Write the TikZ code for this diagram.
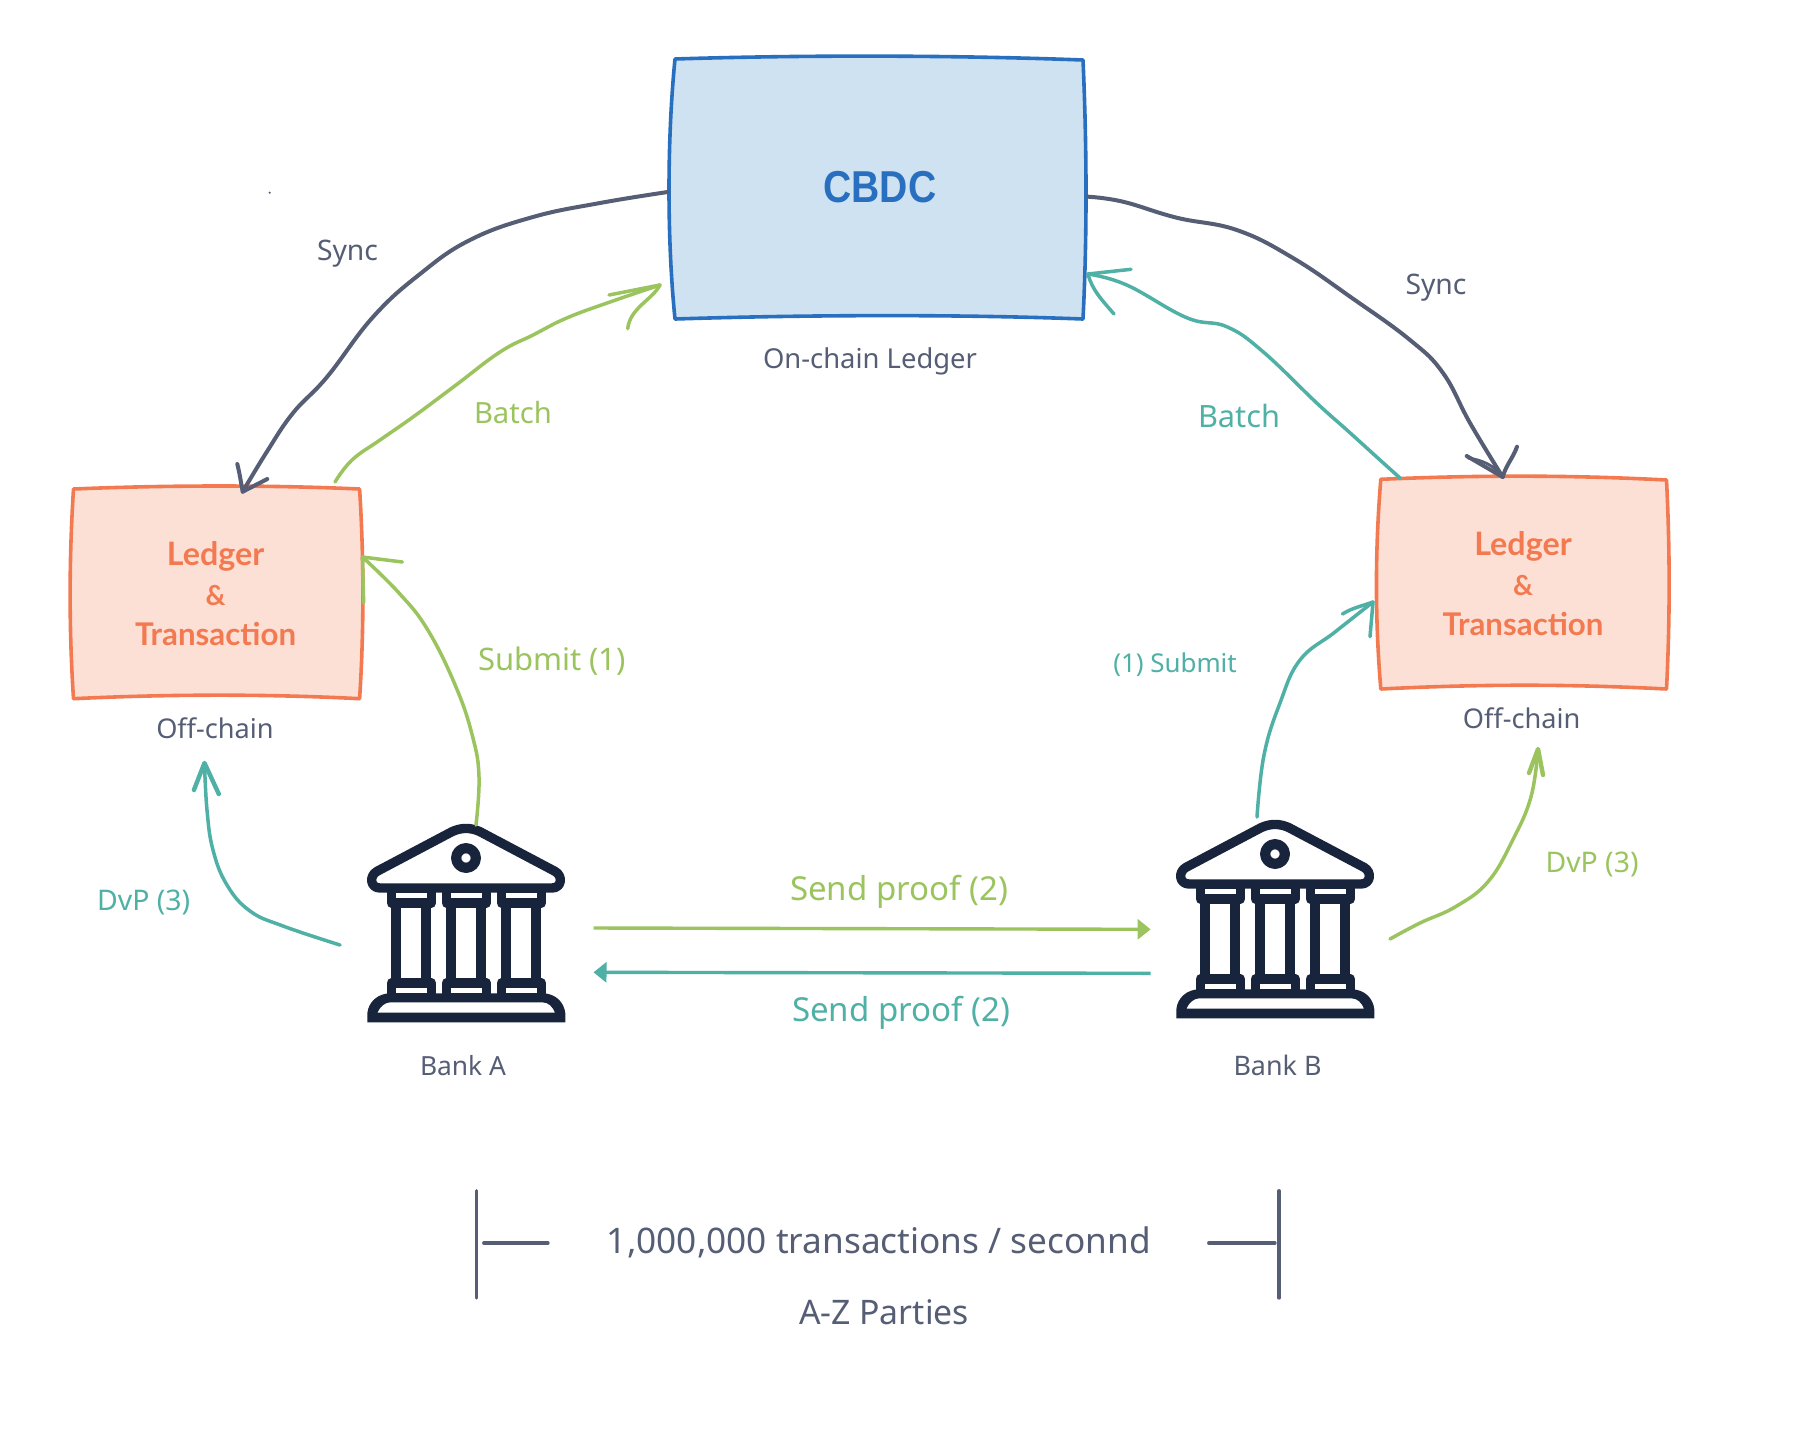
\documentclass[tikz,border=0pt]{standalone}
\usepackage{fontspec}
\usepackage{graphicx}
\usetikzlibrary{arrows.meta}
\setmainfont{Noto Sans}
\newfontfamily\cbdcfont{Liberation Sans}[BoldFont={Liberation Sans Bold}]
\newfontfamily\ledgerfont{Lato}
\definecolor{cblue}{HTML}{2870BF}
\definecolor{cbluefill}{HTML}{CFE2F2}
\definecolor{corange}{HTML}{F37A50}
\definecolor{corangefill}{HTML}{FCE0D6}
\definecolor{cgreen}{HTML}{9BC45F}
\definecolor{cteal}{HTML}{4FB0A6}
\definecolor{cgray}{HTML}{565E75}
\definecolor{cnavy}{HTML}{18233C}
\newcommand{\wt}[2]{\resizebox{\dimexpr #1pt/2\relax}{!}{\fontsize{14}{16}\selectfont #2}}
\newcommand{\wb}[2]{\resizebox{\dimexpr #1pt/2\relax}{!}{\fontsize{14}{16}\ledgerfont\bfseries #2}}
\newcommand{\bankicon}[2]{%
  \begin{scope}[shift={(#1,#2)},x=0.16667pt,y=-0.16667pt]
    \draw[banklw,line width=4.67pt] (120,294) -- (636,294) .. controls (665,294) and (670,258) .. (645,244) -- (420,125) .. controls (392,112) and (364,112) .. (336,125) -- (111,244) .. controls (86,258) and (91,294) .. (120,294) -- cycle;
    \draw[banklw,line width=5.1pt] (378,204) circle (29.5);
    \foreach \cx in {214,379,544} {
      \draw[banklw,line width=4.67pt] (\cx-60,295) rectangle (\cx+60,339);
      \draw[banklw,line width=5pt] (\cx-45,339) -- (\cx-45,579) (\cx+45,339) -- (\cx+45,579);
      \draw[banklw,line width=4.67pt] (\cx-60,579) rectangle (\cx+60,622);
    }
    \fill[cnavy,even odd rule] (82,697) -- (82,670) .. controls (85,635) and (115,610) .. (150,610) -- (608,610) .. controls (645,610) and (672,635) .. (676,670) -- (676,697) -- cycle
      (112,668) .. controls (120,650) and (135,637) .. (150,637) -- (608,637) .. controls (625,637) and (638,650) .. (645,668) -- cycle;
  \end{scope}}
\tikzset{
  banklw/.style={draw=cnavy,line join=round},
  lbl/.style={anchor=base,inner sep=0pt,outer sep=0pt},
  grayt/.style={lbl,text=cgray},
  greent/.style={lbl,text=cgreen},
  tealt/.style={lbl,text=cteal},
  boxt/.style={lbl,text=corange},
  boxblue/.style={draw=cblue,fill=cbluefill,line width=1.8pt,line join=round},
  boxorange/.style={draw=corange,fill=corangefill,line width=1.8pt,line join=round},
  inkg/.style={draw=cgreen,line width=1.75pt,line cap=round,line join=round},
  inkt/.style={draw=cteal,line width=1.75pt,line cap=round,line join=round},
  inks/.style={draw=cgray,line width=2pt,line cap=round,line join=round},
  rule/.style={draw=cgray,line width=1.6pt,line cap=round},
  straightg/.style={draw=cgreen,line width=1.7pt,-{Triangle[length=6.5pt,width=10pt]}},
  straightt/.style={draw=cteal,line width=1.7pt,-{Triangle[length=6.5pt,width=10pt]}}
}
\begin{document}
\begin{tikzpicture}[x=0.5pt,y=-0.5pt]
\useasboundingbox[fill=white] (0,0) rectangle (1798,1430);

% boxes
\draw[boxblue] (675,59) .. controls (800,55) and (950,55) .. (1083,60) .. controls (1087,150) and (1087,240) .. (1083,319) .. controls (950,314) and (800,315) .. (675,319) .. controls (667,240) and (667,140) .. (675,59) -- cycle;
\draw[boxorange] (73.5,489) .. controls (170,485) and (270,485) .. (359.6,489) .. controls (364,560) and (364,630) .. (359.6,698.7) .. controls (270,694) and (170,694) .. (73.5,698.7) .. controls (69,630) and (69,560) .. (73.5,489) -- cycle;
\draw[boxorange] (1380.8,479.3) .. controls (1480,475) and (1570,475) .. (1666.5,480) .. controls (1670,550) and (1670,620) .. (1666.5,689) .. controls (1570,684) and (1480,684) .. (1380.8,689) .. controls (1375,620) and (1375,550) .. (1380.8,479.3) -- cycle;

\node[lbl,text=cblue] (cbdc) at (880,202) {\resizebox{56.5pt}{15.6pt}{\cbdcfont\bfseries CBDC}};
\node[boxt] (ledgerAa) at (215.6,565) {\wb{97.5}{Ledger}};
\node[boxt] (ledgerAb) at (215.6,605) {\wb{20}{\&}};
\node[boxt] (ledgerAc) at (215.6,645.7) {\wb{161}{Transaction}};
\node[boxt] (ledgerBa) at (1523,555) {\wb{97.5}{Ledger}};
\node[boxt] (ledgerBb) at (1523,595) {\wb{20}{\&}};
\node[boxt] (ledgerBc) at (1523,635.7) {\wb{161}{Transaction}};

% banks
\bankicon{340}{790}
\bankicon{1149}{786}
\coordinate (bankAdvp) at (340,945);
\coordinate (bankAsub) at (476,825);
\coordinate (bankBsub) at (1257,817);
\coordinate (bankBdvp) at (1390,939);
\coordinate (proofAstart) at (593.5,928);
\coordinate (proofAend) at (593.5,972.3);
\coordinate (proofBend) at (1150.6,929.3);
\coordinate (proofBstart) at (1150.6,973.3);
\coordinate (cbdcL) at (667.7,192);
\coordinate (cbdcR) at (1088,196.7);
\coordinate (cbdcBatchL) at (660,285);
\coordinate (cbdcBatchR) at (1088,274);
\coordinate (ledgerAtop) at (242.7,491.7);
\coordinate (ledgerAbatch) at (335,482);
\coordinate (ledgerAside) at (362.4,557);
\coordinate (ledgerBtop) at (1502.7,477);
\coordinate (ledgerBbatch) at (1400,478);
\coordinate (ledgerBside) at (1373,602);
\coordinate (offA) at (204.5,763);
\coordinate (offB) at (1538,749);

% freehand connectors
\draw[inks] plot[smooth,tension=.7] coordinates {(cbdcL) (600,203) (533,217) (470,240) (420,274) (373,317) (327,377) (293,413) (266.7,452) (ledgerAtop)};
\draw[inks] (237.3,464) .. controls (240,475) and (241,483) .. (ledgerAtop) -- (267.3,479);

\draw[inkg] plot[smooth,tension=.7] coordinates {(ledgerAbatch) (352,460) (380,440) (413,417) (456,385) (500,352) (533,335) (566.7,318) (610,302) (cbdcBatchL)};
\draw[inkg] (609,295) -- (cbdcBatchL) .. controls (652,300) and (630,308) .. (627.7,328.7);

\draw[inks] plot[smooth,tension=.7] coordinates {(cbdcR) (1123,201.7) (1176.7,217.7) (1236.7,230) (1293,258) (1352,298) (1410,340) (1443,373) (1470,423) (ledgerBtop)};
\draw[inks] (1466.7,456) -- (ledgerBtop) .. controls (1506,465) and (1513,458) .. (1517,446.7);
\draw[inks,line width=1.4pt] (1468,458) .. controls (1482,460) and (1494,465) .. (ledgerBtop);

\draw[inkt] plot[smooth,tension=.7] coordinates {(ledgerBbatch) (1380,460) (1348,431) (1316.7,403) (1263,351.7) (1226.7,326.7) (1186.7,317.7) (1126.7,285) (cbdcBatchR)};
\draw[inkt] (1131,269.3) -- (cbdcBatchR) .. controls (1092,290) and (1102,300) .. (1114,314);

\draw[inkg] plot[smooth,tension=.7] coordinates {(bankAsub) (479,777) (472.7,737) (456,687) (427.8,630) (399,593) (ledgerAside)};
\draw[inkg] (402.4,562) -- (ledgerAside) -- (363.7,603);

\draw[inkt] plot[smooth,tension=.7] coordinates {(bankAdvp) (283,926) (250,911) (227,885) (213,850) (207,810) (offA)};
\draw[inkt,line width=2.2pt] (193.9,790) -- (offA) -- (218.8,794);

\draw[inkt] plot[smooth,tension=.7] coordinates {(bankBsub) (1264,755) (1280,703) (1300,660) (1335,632) (ledgerBside)};
\draw[inkt] (1342.4,614) .. controls (1352,608) and (1362,606) .. (ledgerBside) -- (1370,636.7);

\draw[inkg] plot[smooth,tension=.7] coordinates {(bankBdvp) (1420,923) (1455.5,906.7) (1488,881.7) (1512.7,840) (1531,796.7) (offB)};
\draw[inkg,line width=2.2pt] (1529,773) -- (offB) -- (1543,775);

\draw[straightg] (proofAstart) -- (proofBend);
\draw[straightt] (proofBstart) -- (proofAend);

% range marks
\coordinate (rangeLt) at (476.4,1190.7);
\coordinate (rangeLb) at (476.4,1298);
\coordinate (rangeRt) at (1279,1190.7);
\coordinate (rangeRb) at (1279,1298);
\coordinate (tickLa) at (483.7,1243);
\coordinate (tickLb) at (548,1243);
\coordinate (tickRa) at (1208.7,1243);
\coordinate (tickRb) at (1275,1243);
\draw[rule] (rangeLt) -- (rangeLb);
\draw[rule] (rangeRt) -- (rangeRb);
\draw[rule] (tickLa) -- (tickLb);
\draw[rule] (tickRa) -- (tickRb);

% stray dot
\fill[cgray] (269.7,192.7) circle (1.2);

% labels
\node[grayt] (onchain) at (870,368) {\wt{214}{On-chain Ledger}};
\node[grayt] (syncL) at (347.5,260) {\wt{61}{Sync}};
\node[grayt] (syncR) at (1436,294) {\wt{61}{Sync}};
\node[greent] (batchL) at (513,423) {\wt{78}{Batch}};
\node[tealt] (batchR) at (1239,427) {\wt{82}{Batch}};
\node[grayt] (offchainA) at (215,738) {\wt{117.5}{Off-chain}};
\node[grayt] (offchainB) at (1521.6,728) {\wt{117.5}{Off-chain}};
\node[greent] (submitA) at (552,670.7) {\wt{148}{Submit (1)}};
\node[tealt] (submitB) at (1175,672.7) {\wt{123.5}{(1) Submit}};
\node[tealt] (dvpA) at (143.7,910) {\wt{93}{DvP (3)}};
\node[greent] (dvpB) at (1592,872.7) {\wt{93}{DvP (3)}};
\node[greent] (proofG) at (899,900.7) {\wt{218}{Send proof (2)}};
\node[tealt] (proofT) at (901,1021.7) {\wt{218}{Send proof (2)}};
\node[grayt] (bankAl) at (463,1075.6) {\wt{86}{Bank A}};
\node[grayt] (bankBl) at (1277.5,1075.6) {\wt{88}{Bank B}};
\node[grayt] (rate) at (879,1253.3) {\wt{544}{1,000,000 transactions / seconnd}};
\node[grayt] (parties) at (884,1324.3) {\wt{170}{A-Z Parties}};
\end{tikzpicture}
\end{document}
